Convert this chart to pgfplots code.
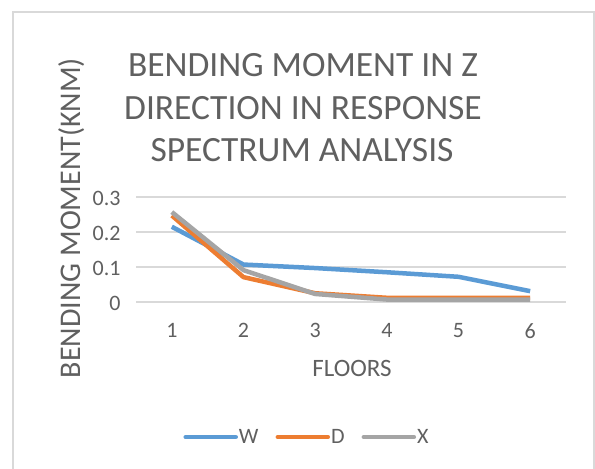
\documentclass[border=0pt]{standalone}
\usepackage{pgfplots}
\pgfplotsset{compat=1.18}
\usepackage{fontspec}
\setmainfont{Carlito}
\definecolor{txt}{HTML}{606060}
\definecolor{cW}{HTML}{5B9BD5}
\definecolor{cD}{HTML}{ED7D31}
\definecolor{cX}{HTML}{A5A5A5}
\definecolor{grd}{HTML}{D9D9D9}
\begin{document}
\begin{tikzpicture}[x=1pt,y=1pt]
\useasboundingbox (0,0) rectangle (595,469);
\fill[white] (0,0) rectangle (595,469);
\draw[color=grd,line width=1.3pt] (13,-20) -- (13,457) -- (594,457) -- (594,-20);
\begin{axis}[
  at={(136pt,167pt)}, anchor=south west,
  scale only axis, width=430pt, height=105pt,
  xmin=0.5, xmax=6.5, ymin=0, ymax=0.3,
  xtick={1,2,3,4,5,6}, ytick={0,0.1,0.2,0.3},
  axis line style={draw=none}, tick style={draw=none},
  ymajorgrids, major grid style={color=grd,line width=1.3pt},
  /pgf/number format/assume math mode=true,
  tick label style={font=\fontsize{22}{26}\selectfont, text=txt},
  yticklabel style={xshift=-12pt, yshift=-1pt},
  xticklabel style={yshift=-18pt},
  clip=false,
  legend style={at={(0.3965,-1.286)}, anchor=center, draw=none, fill=none,
    legend columns=-1, font=\fontsize{22}{26}\selectfont, text=txt,
    /tikz/every even column/.append style={column sep=16pt},
    nodes={inner sep=1pt}},
  legend image code/.code={\draw[#1,line cap=round] (0pt,0pt) -- (50pt,0pt);},
]
\addplot[cW, line width=4.5pt, line join=round] coordinates {(1,0.215) (2,0.107) (3,0.097) (4,0.085) (5,0.072) (6,0.031)};
\addlegendentry{W}
\addplot[cD, line width=4.5pt, line join=round] coordinates {(1,0.247) (2,0.071) (3,0.025) (4,0.012) (5,0.012) (6,0.012)};
\addlegendentry{D}
\addplot[cX, line width=4.5pt, line join=round] coordinates {(1,0.257) (2,0.091) (3,0.023) (4,0.007) (5,0.007) (6,0.007)};
\addlegendentry{X}
\end{axis}
\begin{scope}[every node/.style={text=txt, inner sep=0pt}]
\node[anchor=base, font=\fontsize{35.5}{42}\selectfont] at (303,392) {BENDING MOMENT IN Z};
\node[anchor=base, font=\fontsize{35.5}{42}\selectfont] at (303,349) {DIRECTION IN RESPONSE};
\node[anchor=base, font=\fontsize{35.5}{42}\selectfont] at (302,307) {SPECTRUM ANALYSIS};
\node[anchor=base, rotate=90, font=\fontsize{30}{36}\selectfont] at (80,251) {BENDING MOMENT(KNM)};
\node[anchor=base, font=\fontsize{25}{30}\selectfont] at (352,92) {FLOORS};
\end{scope}
\end{tikzpicture}
\end{document}
